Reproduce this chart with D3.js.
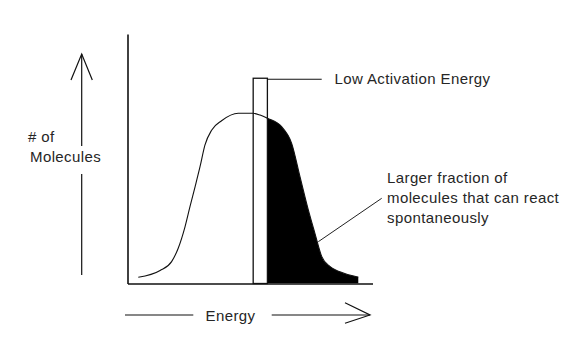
<!DOCTYPE html>
<html>
<head>
<meta charset="utf-8">
<script src="https://cdn.jsdelivr.net/npm/d3@7"></script>
<style>
  html, body { margin: 0; padding: 0; background: #fff; }
  svg { display: block; }
  text { font-family: "Liberation Sans", Arial, sans-serif; font-size: 15px; letter-spacing: 0.4px; fill: #262626; }
</style>
</head>
<body>
<svg id="chart" width="576" height="356"></svg>
<script>
// ---- Data (arbitrary units 0..100) ----
const energy    = [4.4, 13.3, 18.0, 20.7, 23.5, 25.5, 27.6, 29.6, 31.6, 34.4, 38.4, 45.2, 51.3, 54.1, 57.1, 62.9, 67.0, 70.4, 73.8, 76.5, 79.3, 82.7, 86.7, 93.6, 94.2];
const molecules = [2.5, 5.2, 8.8, 14.2, 22.9, 30.9, 39.0, 47.0, 55.7, 61.8, 65.5, 68.5, 68.5, 67.8, 66.5, 63.1, 56.4, 43.0, 29.6, 20.2, 10.8, 6.8, 4.7, 2.7, 2.6];
const activationBand = [51.3, 57.1];   // energy range of the activation barrier bar
const activationTop = [82.6];          // height of the bar
const xAxisLabel = ["Energy"];
const yAxisLabel = ["# of", "Molecules"];
const barrierLabel = ["Low Activation Energy"];
const fractionLabel = ["Larger fraction of", "molecules that can react", "spontaneously"];

const points = energy.map((e, i) => ({ e, m: molecules[i] }));

const svg = d3.select("#chart");
const x = d3.scaleLinear().domain([0, 100]).range([127.5, 372.5]);
const y = d3.scaleLinear().domain([0, 100]).range([283.5, 35]);

// ---- Axes (no ticks) ----
svg.append("g")
  .attr("transform", `translate(0,${y(0)})`)
  .call(d3.axisBottom(x).ticks(0).tickSizeOuter(0))
  .call(g => g.select(".domain").attr("stroke", "#111").attr("stroke-width", 1.6));
svg.append("g")
  .attr("transform", `translate(${x(0)},0)`)
  .call(d3.axisLeft(y.copy().range([283.5, 34])).ticks(0).tickSizeOuter(0))
  .call(g => g.select(".domain").attr("stroke", "#111").attr("stroke-width", 1.6));

// ---- Shaded fraction beyond the activation energy ----
svg.append("clipPath").attr("id", "beyond")
  .append("rect")
  .attr("x", x(activationBand[1]))
  .attr("y", 0)
  .attr("width", 576 - x(activationBand[1]))
  .attr("height", y(0));

const area = d3.area()
  .x(d => x(d.e)).y0(y(0)).y1(d => y(d.m))
  .curve(d3.curveMonotoneX);
svg.append("path")
  .datum(points)
  .attr("clip-path", "url(#beyond)")
  .attr("d", area)
  .attr("fill", "#000");

// ---- Distribution curve ----
const line = d3.line().x(d => x(d.e)).y(d => y(d.m)).curve(d3.curveMonotoneX);
svg.append("path")
  .datum(points)
  .attr("d", line)
  .attr("fill", "none")
  .attr("stroke", "#111")
  .attr("stroke-width", 1.1);

// ---- Activation energy bar ----
svg.append("rect")
  .attr("x", x(activationBand[0]))
  .attr("y", y(activationTop[0]))
  .attr("width", x(activationBand[1]) - x(activationBand[0]))
  .attr("height", y(0) - y(activationTop[0]))
  .attr("fill", "none")
  .attr("stroke", "#111")
  .attr("stroke-width", 1.3);

// leader to bar label
svg.append("line")
  .attr("x1", x(activationBand[1])).attr("y1", y(activationTop[0]) + 1)
  .attr("x2", 321.7).attr("y2", y(activationTop[0]) + 1)
  .attr("stroke", "#111").attr("stroke-width", 1.2);
svg.append("text").attr("x", 334.5).attr("y", 84).text(barrierLabel[0]);

// leader to fraction label
svg.append("line")
  .attr("x1", 318.3).attr("y1", 241.7)
  .attr("x2", 381.7).attr("y2", 198.3)
  .attr("stroke", "#222").attr("stroke-width", 1);
svg.selectAll("text.frac")
  .data(fractionLabel)
  .join("text")
  .attr("class", "frac")
  .attr("x", 387)
  .attr("y", (d, i) => 182.5 + i * 20)
  .text(d => d);

// ---- Y direction arrow with label ----
const ay = svg.append("g").attr("stroke", "#111").attr("stroke-width", 1.2).attr("fill", "none");
ay.append("line").attr("x1", 81.7).attr("x2", 81.7).attr("y1", 54).attr("y2", 146);
ay.append("line").attr("x1", 81.7).attr("x2", 81.7).attr("y1", 174).attr("y2", 275);
ay.append("path").attr("d", "M71,80L81.7,54L92.3,80");
svg.append("text").attr("x", 28).attr("y", 141.7).text(yAxisLabel[0]);
svg.append("text").attr("x", 30).attr("y", 161.7).text(yAxisLabel[1]);

// ---- X direction arrow with label ----
const ax = svg.append("g").attr("stroke", "#111").attr("stroke-width", 1.2).attr("fill", "none");
ax.append("line").attr("x1", 125).attr("x2", 193.3).attr("y1", 315).attr("y2", 315);
ax.append("line").attr("x1", 271.7).attr("x2", 370).attr("y1", 315).attr("y2", 315);
ax.append("path").attr("d", "M345,302.7L370,315L345,323.3");
svg.append("text").attr("x", 205.5).attr("y", 320.7).text(xAxisLabel[0]);
</script>
</body>
</html>
